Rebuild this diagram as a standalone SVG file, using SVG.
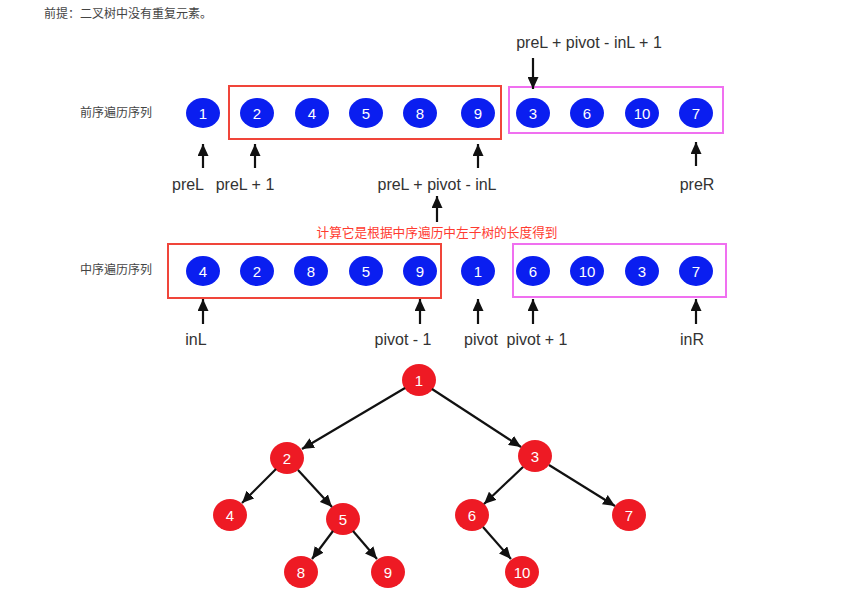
<svg xmlns="http://www.w3.org/2000/svg" width="856" height="606" viewBox="0 0 856 606">
<defs>
<marker id="ah" markerUnits="userSpaceOnUse" markerWidth="13" markerHeight="11" refX="12" refY="5.5" orient="auto">
<path d="M0,0 L12,5.5 L0,11 z" fill="#111"/>
</marker>
<style>
.bg{fill:#fff}
.seq ellipse{fill:#0a1ef0}
.tree ellipse{fill:#ee1a24}
.num{font-family:"Liberation Sans",Arial,sans-serif;font-size:15px;fill:#fff;text-anchor:middle;dominant-baseline:central}
.lbl{font-family:"Liberation Sans",Arial,sans-serif;font-size:16px;fill:#333;text-anchor:middle}
.cn{font-family:"Noto Sans CJK SC",sans-serif;font-size:12px;fill:#444}
.red{fill:#ff3b30;font-size:12.7px}
.redbox{fill:none;stroke:#f0453a;stroke-width:2}
.pinkbox{fill:none;stroke:#f070f0;stroke-width:2}
.conn line{stroke:#111;stroke-width:2.2;marker-end:url(#ah)}
</style>
</defs>
<rect class="bg" x="0" y="0" width="856" height="606"/>
<text class="cn" x="44" y="18">前提：二叉树中没有重复元素。</text>
<text class="cn" x="80" y="117">前序遍历序列</text>
<text class="cn" x="80" y="274">中序遍历序列</text>

<g id="boxes">
<rect class="redbox" x="229" y="86" width="272" height="53"/>
<rect class="pinkbox" x="509" y="87" width="214" height="46"/>
<rect class="redbox" x="168" y="244" width="273" height="54"/>
<rect class="pinkbox" x="513" y="244" width="213" height="53"/>
</g>

<g id="preorder" class="seq">
<g id="p1"><ellipse cx="203" cy="113" rx="17" ry="15"/><text class="num" x="203" y="113">1</text></g>
<g id="p2"><ellipse cx="257" cy="113" rx="17" ry="15"/><text class="num" x="257" y="113">2</text></g>
<g id="p4"><ellipse cx="312" cy="113" rx="17" ry="15"/><text class="num" x="312" y="113">4</text></g>
<g id="p5"><ellipse cx="366" cy="113" rx="17" ry="15"/><text class="num" x="366" y="113">5</text></g>
<g id="p8"><ellipse cx="420" cy="113" rx="17" ry="15"/><text class="num" x="420" y="113">8</text></g>
<g id="p9"><ellipse cx="478" cy="113" rx="17" ry="15"/><text class="num" x="478" y="113">9</text></g>
<g id="p3"><ellipse cx="533" cy="113" rx="17" ry="15"/><text class="num" x="533" y="113">3</text></g>
<g id="p6"><ellipse cx="587" cy="113" rx="17" ry="15"/><text class="num" x="587" y="113">6</text></g>
<g id="p10"><ellipse cx="642" cy="113" rx="17" ry="15"/><text class="num" x="642" y="113">10</text></g>
<g id="p7"><ellipse cx="696" cy="113" rx="17" ry="15"/><text class="num" x="696" y="113">7</text></g>
</g>

<g id="inorder" class="seq">
<g id="i4"><ellipse cx="203" cy="271" rx="17" ry="15"/><text class="num" x="203" y="271">4</text></g>
<g id="i2"><ellipse cx="257" cy="271" rx="17" ry="15"/><text class="num" x="257" y="271">2</text></g>
<g id="i8"><ellipse cx="311" cy="271" rx="17" ry="15"/><text class="num" x="311" y="271">8</text></g>
<g id="i5"><ellipse cx="366" cy="271" rx="17" ry="15"/><text class="num" x="366" y="271">5</text></g>
<g id="i9"><ellipse cx="420" cy="271" rx="17" ry="15"/><text class="num" x="420" y="271">9</text></g>
<g id="i1"><ellipse cx="478" cy="271" rx="17" ry="15"/><text class="num" x="478" y="271">1</text></g>
<g id="i6"><ellipse cx="533" cy="271" rx="17" ry="15"/><text class="num" x="533" y="271">6</text></g>
<g id="i10"><ellipse cx="587" cy="271" rx="17" ry="15"/><text class="num" x="587" y="271">10</text></g>
<g id="i3"><ellipse cx="642" cy="271" rx="17" ry="15"/><text class="num" x="642" y="271">3</text></g>
<g id="i7"><ellipse cx="696" cy="271" rx="17" ry="15"/><text class="num" x="696" y="271">7</text></g>
</g>

<g id="labels">
<text class="lbl" x="188" y="190">preL</text>
<text class="lbl" x="245" y="190">preL + 1</text>
<text class="lbl" x="437" y="190">preL + pivot - inL</text>
<text class="lbl" x="697" y="190">preR</text>
<text class="lbl" x="589" y="48">preL + pivot - inL + 1</text>
<text class="cn red" x="437" y="237" text-anchor="middle">计算它是根据中序遍历中左子树的长度得到</text>
<text class="lbl" x="196" y="345">inL</text>
<text class="lbl" x="403" y="345">pivot - 1</text>
<text class="lbl" x="481" y="345">pivot</text>
<text class="lbl" x="537" y="345">pivot + 1</text>
<text class="lbl" x="692" y="345">inR</text>
</g>

<g id="tree" class="tree">
<g id="t1"><ellipse cx="419" cy="380" rx="17" ry="16"/><text class="num" x="419" y="380">1</text></g>
<g id="t2"><ellipse cx="287" cy="458" rx="17" ry="16"/><text class="num" x="287" y="458">2</text></g>
<g id="t3"><ellipse cx="535" cy="456" rx="17" ry="16"/><text class="num" x="535" y="456">3</text></g>
<g id="t4"><ellipse cx="230" cy="515" rx="17" ry="16"/><text class="num" x="230" y="515">4</text></g>
<g id="t5"><ellipse cx="343" cy="519" rx="17" ry="16"/><text class="num" x="343" y="519">5</text></g>
<g id="t6"><ellipse cx="472" cy="515" rx="17" ry="16"/><text class="num" x="472" y="515">6</text></g>
<g id="t7"><ellipse cx="629" cy="515" rx="17" ry="16"/><text class="num" x="629" y="515">7</text></g>
<g id="t8"><ellipse cx="301" cy="572" rx="17" ry="16"/><text class="num" x="301" y="572">8</text></g>
<g id="t9"><ellipse cx="388" cy="572" rx="17" ry="16"/><text class="num" x="388" y="572">9</text></g>
<g id="t10"><ellipse cx="522" cy="572" rx="17" ry="16"/><text class="num" x="522" y="572">10</text></g>
</g>

<g id="connectors" class="conn">
<line x1="203" y1="168" x2="203" y2="144"/>
<line x1="255" y1="168" x2="255" y2="144"/>
<line x1="478" y1="168" x2="478" y2="144"/>
<line x1="696" y1="166" x2="696" y2="142"/>
<line x1="437" y1="222" x2="437" y2="196"/>
<line x1="533" y1="58" x2="533" y2="89"/>
<line x1="203" y1="324" x2="203" y2="299"/>
<line x1="420" y1="324" x2="420" y2="299"/>
<line x1="478" y1="324" x2="478" y2="299"/>
<line x1="533" y1="324" x2="533" y2="299"/>
<line x1="696" y1="324" x2="696" y2="299"/>
<line x1="405" y1="388" x2="302" y2="449"/>
<line x1="432" y1="389" x2="521" y2="447"/>
<line x1="276" y1="469" x2="242" y2="503"/>
<line x1="298" y1="470" x2="332" y2="507"/>
<line x1="333" y1="531" x2="312" y2="559"/>
<line x1="353" y1="531" x2="377" y2="559"/>
<line x1="523" y1="467" x2="484" y2="504"/>
<line x1="549" y1="465" x2="615" y2="506"/>
<line x1="483" y1="527" x2="511" y2="559"/>
</g>
</svg>
